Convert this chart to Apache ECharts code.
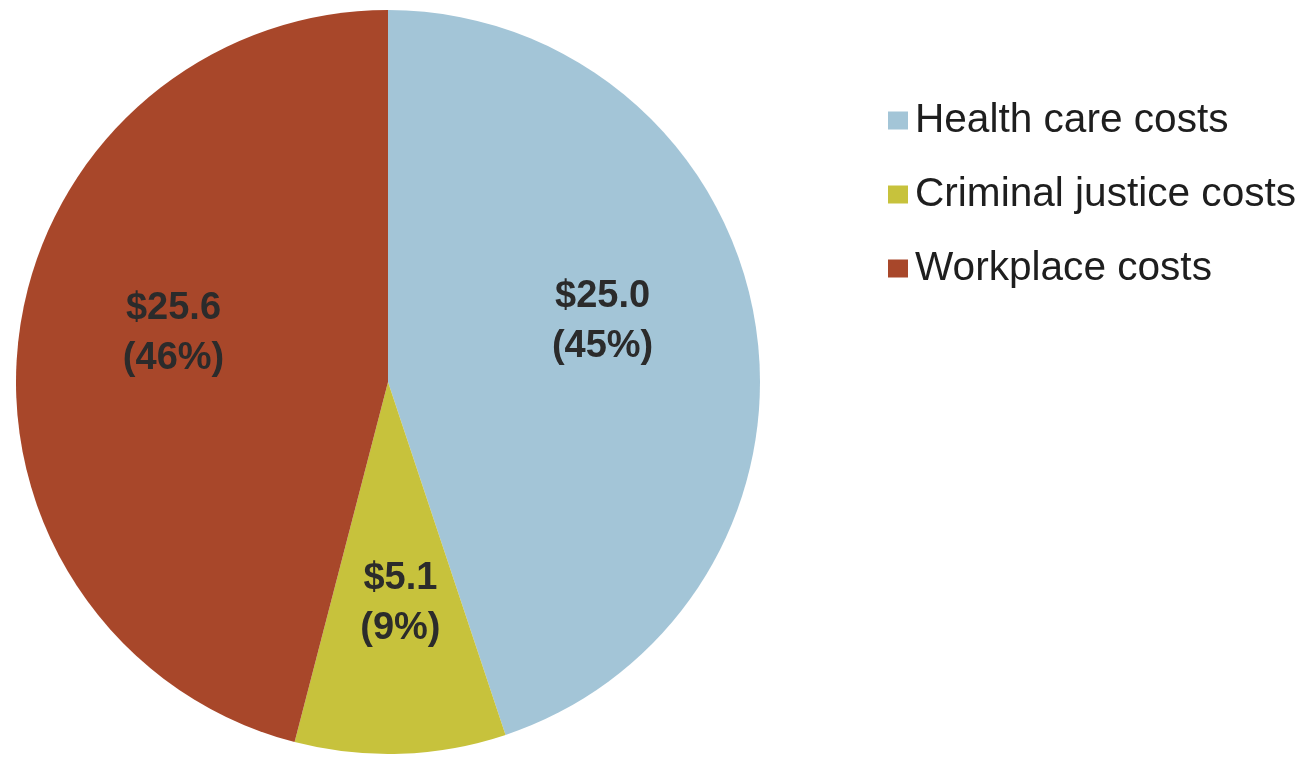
<!DOCTYPE html>
<html>
<head>
<meta charset="utf-8">
<script src="https://cdn.jsdelivr.net/npm/echarts@6/dist/echarts.min.js"></script>
<style>html,body{margin:0;padding:0;background:#fff}#c{width:1306px;height:757px}</style>
</head>
<body>
<div id="c"></div>
<script>
const categories = ['Health care costs', 'Criminal justice costs', 'Workplace costs'];
const values = [25.0, 5.1, 25.6];
const colors = ['#a3c5d7', '#c7c23c', '#a8472a'];
const labelOffsets = [[28, -30], [6, 33], [-27, -25]];

const chart = echarts.init(document.getElementById('c'));
chart.setOption({
  animation: false,
  backgroundColor: '#ffffff',
  legend: {
    orient: 'vertical',
    left: 883,
    top: 95,
    itemWidth: 20,
    itemHeight: 18,
    itemGap: 33,
    icon: 'rect',
    textStyle: { fontFamily: '"Liberation Sans", Arial, sans-serif', fontSize: 40.6, lineHeight: 40, color: '#1e1e1e', padding: [0, 0, 0, 2] },
    data: categories
  },
  series: [{
    type: 'pie',
    center: [388, 382],
    radius: 372,
    startAngle: 90,
    clockwise: true,
    percentPrecision: 0,
    label: {
      show: true,
      position: 'inside',
      formatter: p => '$' + p.value.toFixed(1) + '\n(' + p.percent + '%)',
      fontFamily: '"Liberation Sans", Arial, sans-serif',
      fontWeight: 'bold',
      fontSize: 38,
      lineHeight: 50,
      color: '#2b2b2b',
      textBorderWidth: 0
    },
    labelLine: { show: false },
    emphasis: { disabled: true },
    itemStyle: { borderWidth: 0 },
    data: categories.map((name, i) => ({
      name: name,
      value: values[i],
      itemStyle: { color: colors[i] },
      label: { offset: labelOffsets[i] }
    }))
  }]
});
</script>
</body>
</html>
